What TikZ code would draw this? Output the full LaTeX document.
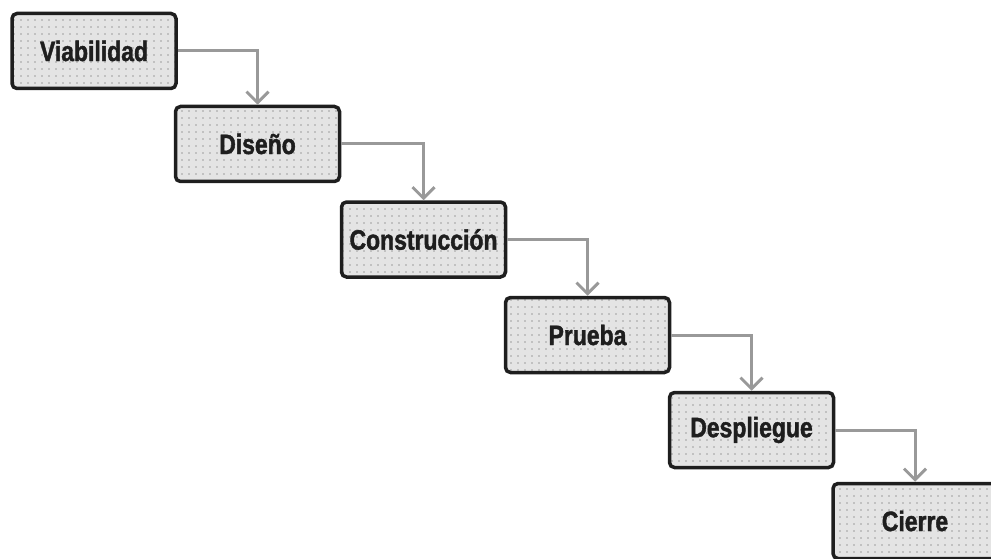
\documentclass[tikz,border=0pt]{standalone}
\usepackage{fontspec}
\setmainfont[FakeStretch=0.82,FakeBold=1.5]{Liberation Sans}
\usetikzlibrary{arrows.meta,patterns.meta}
\definecolor{boxline}{HTML}{1E1E1E}
\definecolor{boxfill}{HTML}{E4E4E4}
\definecolor{linkgray}{HTML}{999999}
\tikzset{
  phase/.style={
    draw=boxline, line width=3.5pt, rounded corners=5pt,
    minimum width=164pt, minimum height=75pt, inner xsep=2pt,
    font=\fontsize{28}{32}\selectfont\bfseries, text=boxline,
    preaction={fill=boxfill},
    pattern={Dots[distance=7pt,radius=0.9pt]}, pattern color=gray!75},
  link/.style={draw=linkgray, line width=3pt,
    -{Straight Barb[length=11pt,width=22pt,line width=3pt]}}
}
\begin{document}
\begin{tikzpicture}[x=1pt,y=-1pt]
  \useasboundingbox (0,0) rectangle (991,559);
  \clip (0,0) rectangle (991,559);
  \node[phase] (v) at (94,51)    {Viabilidad};
  \node[phase] (d) at (257.5,144) {Diseño};
  \node[phase] (c) at (423.5,239.5) {Construcción};
  \node[phase] (p) at (587.5,335) {Prueba};
  \node[phase] (s) at (751.5,430) {Despliegue};
  \node[phase] (z) at (915,521) {Cierre};
  \draw[link] (v.east) -| (d.north);
  \draw[link] (d.east) -| (c.north);
  \draw[link] (c.east) -| (p.north);
  \draw[link] (p.east) -| (s.north);
  \draw[link] (s.east) -| (z.north);
\end{tikzpicture}
\end{document}
